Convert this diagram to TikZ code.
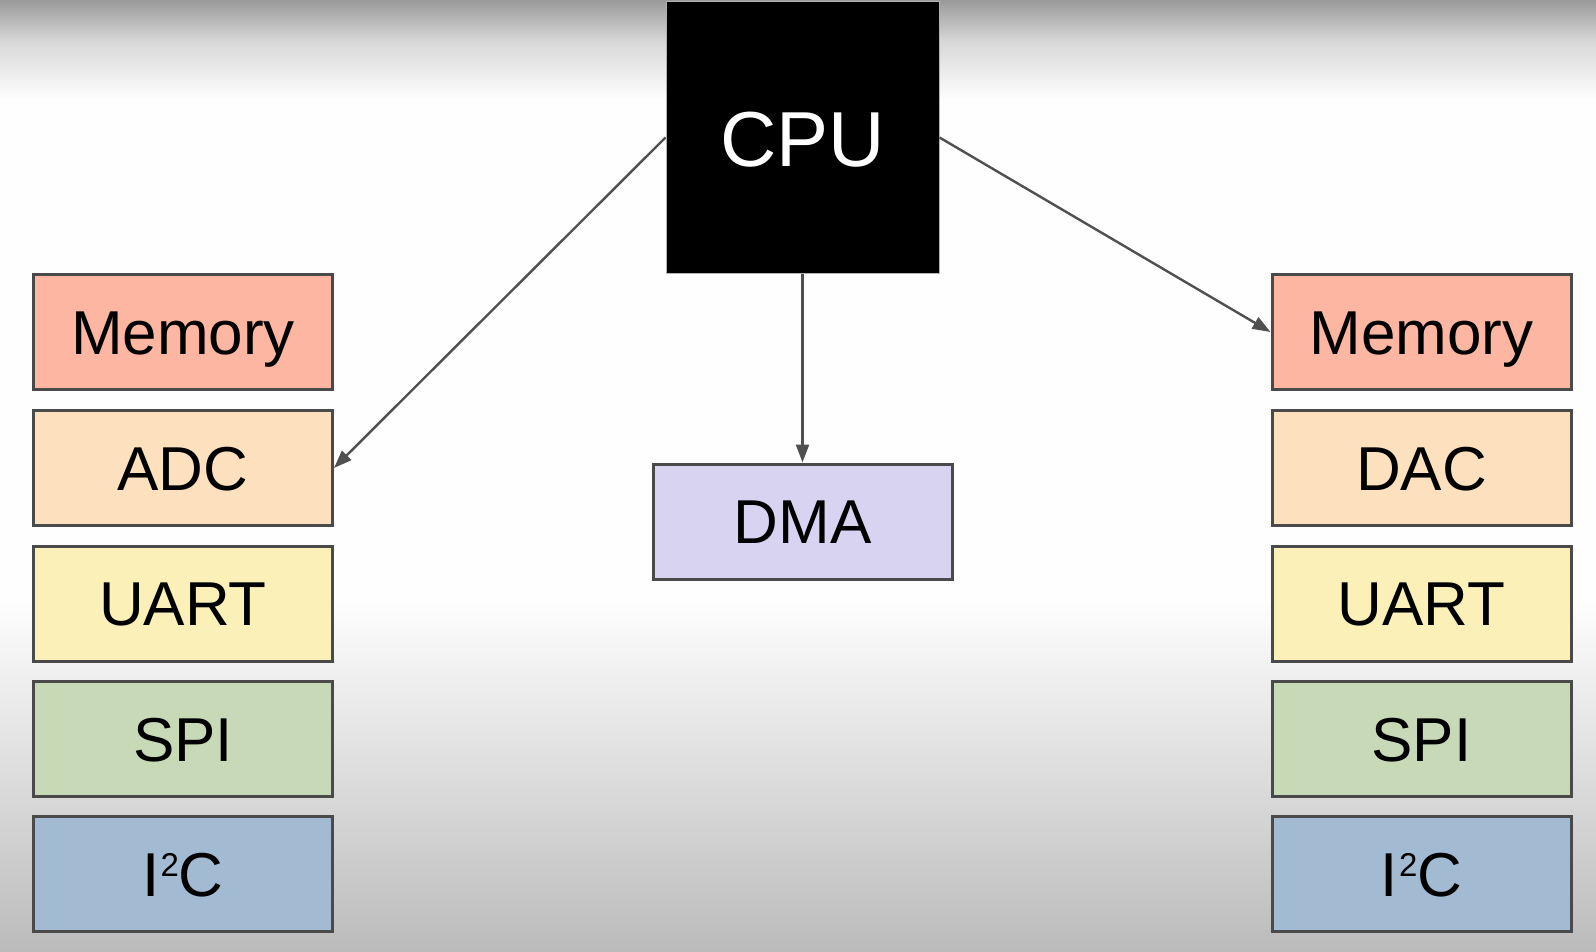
\documentclass[tikz,border=0pt]{standalone}
\usepackage{fontspec}
\setmainfont{Liberation Sans}
\usetikzlibrary{arrows.meta}
\definecolor{memc}{HTML}{FCB6A1}
\definecolor{adcc}{HTML}{FDE1BF}
\definecolor{uartc}{HTML}{FCF0B9}
\definecolor{spic}{HTML}{C8D9B7}
\definecolor{i2cc}{HTML}{A3BBD2}
\definecolor{dmac}{HTML}{D9D3F2}
\definecolor{edgec}{HTML}{4A4A4A}
\definecolor{linec}{HTML}{505050}
\definecolor{bgmid}{HTML}{FEFEFE}
\definecolor{bgtop}{HTML}{9A9A9A}
\definecolor{bgtop2}{HTML}{D8D8D8}
\definecolor{bgbot}{HTML}{BBBBBB}
\newcommand{\sqtwo}{\kern1pt\raisebox{20pt}{\fontsize{33}{33}\selectfont 2}}
\tikzset{
  blk/.style={draw=edgec, line width=3pt, minimum width=299pt, minimum height=115pt, inner sep=0pt,
    text height=44pt, text depth=0pt, font=\fontsize{62}{70}\selectfont, text=black},
  conn/.style={draw=linec, line width=2.4pt, -{Triangle[length=18pt,width=13pt]}}
}
\begin{document}
\begin{tikzpicture}[x=1pt,y=-1pt]
\useasboundingbox (0,0) rectangle (1596,952);
% background
\shade[top color=bgtop, bottom color=bgtop2] (0,0) rectangle (1596,42);
\shade[top color=bgtop2, bottom color=bgmid] (0,41.5) rectangle (1596,100);
\fill[bgmid] (0,99.5) rectangle (1596,600);
\shade[top color=bgmid, bottom color=bgbot] (0,599.5) rectangle (1596,952);
% CPU
\node[fill=black, draw=gray!60, line width=1pt, minimum width=273pt, minimum height=271pt, inner sep=0pt,
  text=white, text height=58pt, text depth=0pt, font=\fontsize{78}{80}\selectfont] (cpu) at (802.5,137.5) {CPU};
% left column
\node[blk, fill=memc] (lmem) at (183,332) {Memory};
\node[blk, fill=adcc] (ladc) at (183,468) {ADC};
\node[blk, fill=uartc] (luart) at (183,603.5) {UART};
\node[blk, fill=spic] (lspi) at (183,739) {SPI};
\node[blk, fill=i2cc] (li2c) at (183,874) {I\sqtwo C};
% right column
\node[blk, fill=memc] (rmem) at (1421.5,332) {Memory};
\node[blk, fill=adcc] (rdac) at (1421.5,468) {DAC};
\node[blk, fill=uartc] (ruart) at (1421.5,603.5) {UART};
\node[blk, fill=spic] (rspi) at (1421.5,739) {SPI};
\node[blk, fill=i2cc] (ri2c) at (1421.5,874) {I\sqtwo C};
% DMA
\node[blk, fill=dmac] (dma) at (802.5,521.5) {DMA};
% connectors
\draw[conn] (cpu.west) -- (ladc.east);
\draw[conn] (cpu.east) -- (rmem.west);
\draw[conn] (cpu.south) -- (dma.north);
\end{tikzpicture}
\end{document}
